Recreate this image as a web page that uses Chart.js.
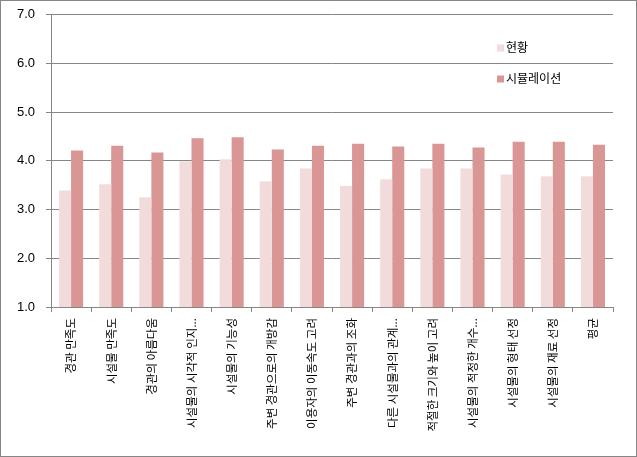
<!DOCTYPE html>
<html>
<head>
<meta charset="utf-8">
<script src="https://cdn.jsdelivr.net/npm/chart.js@4/dist/chart.umd.min.js"></script>
<style>
  html, body { margin: 0; padding: 0; background: #fff; }
  #wrap { width: 637px; height: 457px; position: relative; }
</style>
</head>
<body>
<div id="wrap"><canvas id="myChart"></canvas></div>
<script>
// 항목
const categories = [
  '경관 만족도', '시설물 만족도', '경관의 아름다움', '시설물의 시각적 인지...',
  '시설물의 기능성', '주변 경관으로의 개방감', '이용자의 이동속도 고려',
  '주변 경관과의 조화', '다른 시설물과의 관계...', '적절한 크기와 높이 고려',
  '시설물의 적정한 개수...', '시설물의 형태 선정', '시설물의 재료 선정', '평균'
];
const seriesNames = ['현황', '시뮬레이션'];
const current = [3.39, 3.52, 3.25, 3.99, 4.03, 3.58, 3.84, 3.48, 3.62, 3.84, 3.84, 3.72, 3.68, 3.68];
const simulated = [4.21, 4.31, 4.17, 4.46, 4.48, 4.23, 4.31, 4.35, 4.29, 4.35, 4.27, 4.39, 4.39, 4.33];
const yTicks = [1, 2, 3, 4, 5, 6, 7];

const colors = ['#F2DCDB', '#D99694'];
const gridColor = '#868686';

// 범례 + 테두리 (차트 영역 안쪽에 그림)
const legendInPlot = {
  id: 'legendInPlot',
  afterDraw(chart) {
    const ctx = chart.ctx;
    const area = chart.chartArea;
    ctx.save();
    ctx.font = '12px "Noto Sans CJK KR"';
    ctx.textBaseline = 'middle';
    const x = area.right - 116;
    const ys = [area.top + 33, area.top + 64];
    seriesNames.forEach((name, i) => {
      ctx.fillStyle = colors[i];
      ctx.fillRect(x, ys[i] - 3, 7, 7);
      ctx.fillStyle = '#000';
      ctx.fillText(name, x + 9, ys[i]);
    });
    ctx.strokeStyle = gridColor;
    ctx.lineWidth = 1;
    ctx.strokeRect(0.5, 0.5, chart.width - 1, chart.height - 1);
    ctx.restore();
  }
};

const ctx = document.getElementById('myChart').getContext('2d');
new Chart(ctx, {
  type: 'bar',
  data: {
    labels: categories,
    datasets: [
      { label: seriesNames[0], data: current, backgroundColor: colors[0] },
      { label: seriesNames[1], data: simulated, backgroundColor: colors[1] }
    ]
  },
  options: {
    responsive: true,
    maintainAspectRatio: false,
    animation: false,
    layout: { padding: { top: 14.5, right: 24, left: 0, bottom: 0 } },
    datasets: {
      bar: { categoryPercentage: 0.6, barPercentage: 1.0, borderWidth: 0 }
    },
    plugins: {
      legend: { display: false },
      tooltip: { enabled: false }
    },
    scales: {
      x: {
        grid: { offset: true, drawOnChartArea: false, color: gridColor, tickLength: 5 },
        border: { color: gridColor },
        ticks: {
          autoSkip: false, maxRotation: 90, minRotation: 90, padding: 6,
          color: '#000', font: { family: '"Noto Sans CJK KR"', size: 11.5 }
        },
        afterFit(scale) { scale.height = 150; }
      },
      y: {
        min: 1, max: 7,
        afterBuildTicks(scale) { scale.ticks = yTicks.map(v => ({ value: v })); },
        grid: { color: gridColor, tickLength: 5 },
        border: { color: gridColor },
        ticks: {
          padding: 11, color: '#000',
          font: { family: '"Liberation Sans"', size: 13 },
          callback: v => v.toFixed(1)
        },
        afterFit(scale) {
          scale.width = 51;
          scale.paddingTop = 0;
          scale.paddingBottom = 0;
        }
      }
    }
  },
  plugins: [legendInPlot]
});
</script>
</body>
</html>
